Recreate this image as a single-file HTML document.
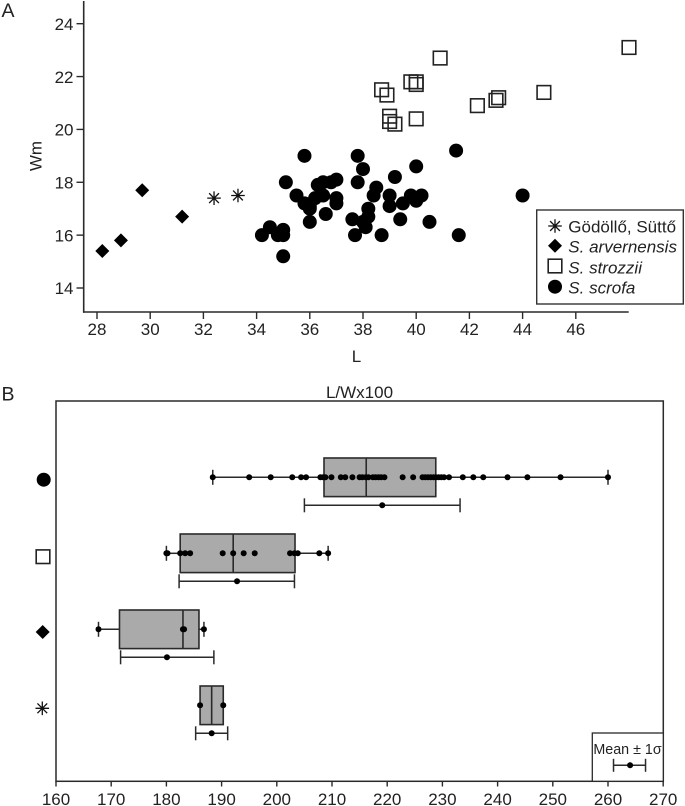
<!DOCTYPE html>
<html lang="en">
<head>
<meta charset="utf-8">
<title>Scatter and box plots</title>
<style>
html,body{margin:0;padding:0;background:#fff;}
svg{display:block;}
text{font-family:"Liberation Sans",sans-serif;font-size:17px;fill:#222;}
</style>
</head>
<body>
<svg id="fig" width="685" height="806" viewBox="0 0 685 806" xmlns="http://www.w3.org/2000/svg">
  <rect x="0" y="0" width="685" height="806" fill="#fff"/>
  <text x="1.5" y="17" style="font-size:19.5px">A</text>
  <text x="1.5" y="400.5" style="font-size:19.5px">B</text>
  <text transform="translate(41.7,156) rotate(-90)" text-anchor="middle">Wm</text>
  <text x="356.5" y="362" text-anchor="middle">L</text>
  <text x="359.5" y="398" text-anchor="middle">L/Wx100</text>
  <g id="panelA"></g>
  <g id="panelB"></g>
  <rect x="536.7" y="210" width="146.6" height="94" fill="#fff" stroke="#333" stroke-width="1.4"/>
  <g id="legendMarks"></g>
  <text x="568.3" y="232.3">Gödöllő, Süttő</text>
  <text x="568.3" y="252.3" font-style="italic">S. arvernensis</text>
  <text x="568.3" y="273.3" font-style="italic">S. strozzii</text>
  <text x="568.3" y="293.3" font-style="italic">S. scrofa</text>
  <text x="627.5" y="754" text-anchor="middle" style="font-size:14.3px">Mean ± 1σ</text>
</svg>
<script>
// Panel A data
const xTicksA = [28,30,32,34,36,38,40,42,44,46];
const yTicksA = [14,16,18,20,22,24];
const scrofaL  = [35.8,35.1,34.2,34.5,34.8,35,35,35,35.5,35.8,36,36,36.2,36.3,36.5,36.5,36.6,36.8,37,37,37,36,37.8,38,37.8,38.5,38.4,39,39,39.2,39.5,39.8,40,40.2,40,39.4,40.5,41.5,41.6,38.7,37.7,37.6,38.2,38.2,38,38.1,44];
const scrofaWm = [19,18,16,16.3,16,16.2,16,15.2,17.5,17.2,17,16.5,17.4,17.9,18,17.5,16.8,18,18.1,17.4,17.2,17.1,19,18.5,18,17.8,17.5,17.5,17.1,18.2,17.2,17.5,17.3,17.5,18.6,16.6,16.5,19.2,16,16,16,16.6,17,16.7,16.5,16.3,17.5];
const strozziiL  = [48,40.9,39.8,40,40,38.7,38.9,39,39,39.2,40,42.3,43,43.1,44.8];
const strozziiWm = [23.1,22.7,21.8,21.8,21.7,21.5,21.3,20.5,20.3,20.2,20.4,20.9,21.1,21.2,21.4];
const arvernensisL  = [28.2,28.9,29.7,31.2];
const arvernensisWm = [15.4,15.8,17.7,16.7];
const godolloL  = [32.4,33.3];
const godolloWm = [17.4,17.5];

// Panel B data
const xTicksB = [160,170,180,190,200,210,220,230,240,250,260,270];
const boxNames = ['scrofa','strozzii','arvernensis','godollo'];
const boxQ1  = [208.55,182.5,171.5,186.1];
const boxMed = [216.2,192.1,183,188.2];
const boxQ3  = [228.8,203.3,185.9,190.3];
const whiskerLow  = [188.4,180,167.7,186.1];
const whiskerHigh = [260,209.3,186.8,190.3];
const meanValues = [219.1,192.8,180.1,188.2];
const sigmaLow   = [205,182.3,171.7,185.3];
const sigmaHigh  = [233.2,203.2,188.6,191.1];
const scrofaValues = [188.4,195,198.9,202.8,204.4,205.3,207.9,208.4,208.8,209.9,211.6,212.4,213.7,215,215.5,216.1,216.6,217.4,217.9,218.4,218.9,219.5,222.8,224.7,226.4,226.9,227.4,227.9,228.4,228.8,229.3,229.8,230.3,231.2,233.7,235.6,237.4,241.8,245.4,251.4,260];
const strozziiValues = [180,180.2,182.5,183.4,184.3,190.2,192.1,194,196,202.4,203.2,203.8,207.7,209.3];
const arvernensisValues = [167.7,183,183.2,186.8];
const godolloValues = [186.1,190.3];
const keyMean = 264;
const keyLow = 261;
const keyHigh = 266.8;

const NS = 'http://www.w3.org/2000/svg';
const LINE = '#2a2a2a';
function xA(v){ return 97 + (v - 28) * 26.6; }
function yA(v){ return 288 - (v - 14) * 26.43; }
function xB(v){ return 56 + (v - 160) * 5.52; }
function rowY(i){ return 477.3 + i * 76; }

function mk(parent, tag, props){
  const el = document.createElementNS(NS, tag);
  for (const k in props) el.setAttribute(k, props[k]);
  parent.appendChild(el);
  return el;
}
function line(parent, x1, y1, x2, y2, w, name){
  const el = mk(parent, 'line', {x1:x1, y1:y1, x2:x2, y2:y2, stroke:LINE, 'stroke-width':w});
  
  
  return el;
}
function label(parent, x, y, txt, anchor, name){
  const el = mk(parent, 'text', {x:x, y:y, 'text-anchor':anchor});
  el.textContent = txt;
  
  
  return el;
}
function circle(parent, x, y, r, name){
  const el = mk(parent, 'circle', {cx:x, cy:y, r:r, fill:'#000'});
  
  
  return el;
}
function square(parent, x, y, name){
  const el = mk(parent, 'rect', {x:x-6.8, y:y-6.8, width:13.6, height:13.6, fill:'none', stroke:'#222', 'stroke-width':1.6});
  
  
  return el;
}
function diamond(parent, x, y, name){
  const r = 7;
  const el = mk(parent, 'polygon', {points:(x-r)+','+y+' '+x+','+(y-r)+' '+(x+r)+','+y+' '+x+','+(y+r), fill:'#000'});
  
  
  return el;
}
function star(parent, x, y, name){
  const r = 6.8, d = r * 0.72;
  const p = 'M'+(x-r)+' '+y+'H'+(x+r)+'M'+x+' '+(y-r)+'V'+(y+r)+'M'+(x-d)+' '+(y-d)+'L'+(x+d)+' '+(y+d)+'M'+(x-d)+' '+(y+d)+'L'+(x+d)+' '+(y-d);
  const el = mk(parent, 'path', {d:p, fill:'none', stroke:'#111', 'stroke-width':1.3});
  
  
  return el;
}

// Panel A axes
const A = document.getElementById('panelA');
line(A, 83.7, 1, 83.7, 312.8, 1.6, 'y-axis-line');
line(A, 83, 312, 628.7, 312, 1.6, 'x-axis-line');
xTicksA.forEach(function(t){
  line(A, xA(t), 312, xA(t), 319, 1.4, 'x-tick');
  label(A, xA(t), 335, String(t), 'middle', 'x-tick-label');
});
yTicksA.forEach(function(t){
  line(A, 76.5, yA(t), 83.7, yA(t), 1.4, 'y-tick');
  label(A, 73.5, yA(t) + 6.2, String(t), 'end', 'y-tick-label');
});

// Panel A marks
scrofaL.forEach(function(v, i){ circle(A, xA(v), yA(scrofaWm[i]), 7, 'point-scrofa'); });
strozziiL.forEach(function(v, i){ square(A, xA(v), yA(strozziiWm[i]), 'point-strozzii'); });
arvernensisL.forEach(function(v, i){ diamond(A, xA(v), yA(arvernensisWm[i]), 'point-arvernensis'); });
godolloL.forEach(function(v, i){ star(A, xA(v), yA(godolloWm[i]), 'point-godollo'); });

// Legend markers
const L = document.getElementById('legendMarks');
star(L, 555, 226, 'legend-marker-godollo');
diamond(L, 555, 245.7, 'legend-marker-arvernensis');
square(L, 555, 266, 'legend-marker-strozzii');
circle(L, 555, 286.7, 7, 'legend-marker-scrofa');

// Panel B frame
const B = document.getElementById('panelB');
const frame = mk(B, 'rect', {x:56, y:401, width:607.3, height:380.3, fill:'none', stroke:LINE, 'stroke-width':1.5});


xTicksB.forEach(function(t){
  line(B, xB(t), 781, xB(t), 786.5, 1.4, 'x-tick');
  label(B, xB(t), 805, String(t), 'middle', 'x-tick-label');
});

// Row markers
circle(B, 43.7, 479.7, 7, 'row-marker-scrofa');
square(B, 43, 556.7, 'row-marker-strozzii');
diamond(B, 42.7, 632, 'row-marker-arvernensis');
star(B, 42.3, 708.3, 'row-marker-godollo');

// Boxes
const rowValues = [scrofaValues, strozziiValues, arvernensisValues, godolloValues];
boxNames.forEach(function(name, i){
  const y = rowY(i);
  if (whiskerLow[i] < boxQ1[i]) {
    line(B, xB(whiskerLow[i]), y, xB(boxQ1[i]), y, 1.5, 'whisker-low-' + name);
    line(B, xB(whiskerLow[i]), y - 7.5, xB(whiskerLow[i]), y + 7.5, 1.5, 'whisker-cap-low-' + name);
  }
  if (whiskerHigh[i] > boxQ3[i]) {
    line(B, xB(boxQ3[i]), y, xB(whiskerHigh[i]), y, 1.5, 'whisker-high-' + name);
    line(B, xB(whiskerHigh[i]), y - 7.5, xB(whiskerHigh[i]), y + 7.5, 1.5, 'whisker-cap-high-' + name);
  }
  const box = mk(B, 'rect', {x:xB(boxQ1[i]), y:y - 19.3, width:xB(boxQ3[i]) - xB(boxQ1[i]), height:38.6, fill:'#aaa', stroke:LINE, 'stroke-width':1.6});
  
  
  line(B, xB(boxMed[i]), y - 19.3, xB(boxMed[i]), y + 19.3, 1.6, 'median-' + name);
  rowValues[i].forEach(function(v){ circle(B, xB(v), y, 3, 'observation-' + name); });
  const sy = y + 28;
  line(B, xB(sigmaLow[i]), sy, xB(sigmaHigh[i]), sy, 1.5, 'sigma-bar-' + name);
  line(B, xB(sigmaLow[i]), sy - 7, xB(sigmaLow[i]), sy + 7, 1.5, 'sigma-cap-low-' + name);
  line(B, xB(sigmaHigh[i]), sy - 7, xB(sigmaHigh[i]), sy + 7, 1.5, 'sigma-cap-high-' + name);
  circle(B, xB(meanValues[i]), sy, 3, 'mean-' + name);
});

// Mean key
const key = mk(B, 'rect', {x:592.3, y:733, width:71, height:48.3, fill:'#fff', stroke:LINE, 'stroke-width':1.3});


line(B, xB(keyLow), 765.3, xB(keyHigh), 765.3, 1.5, 'mean-key-bar');
line(B, xB(keyLow), 758.8, xB(keyLow), 771.8, 1.5, 'mean-key-cap-low');
line(B, xB(keyHigh), 758.8, xB(keyHigh), 771.8, 1.5, 'mean-key-cap-high');
circle(B, xB(keyMean), 765.3, 3, 'mean-key-dot');
</script>
</body>
</html>
